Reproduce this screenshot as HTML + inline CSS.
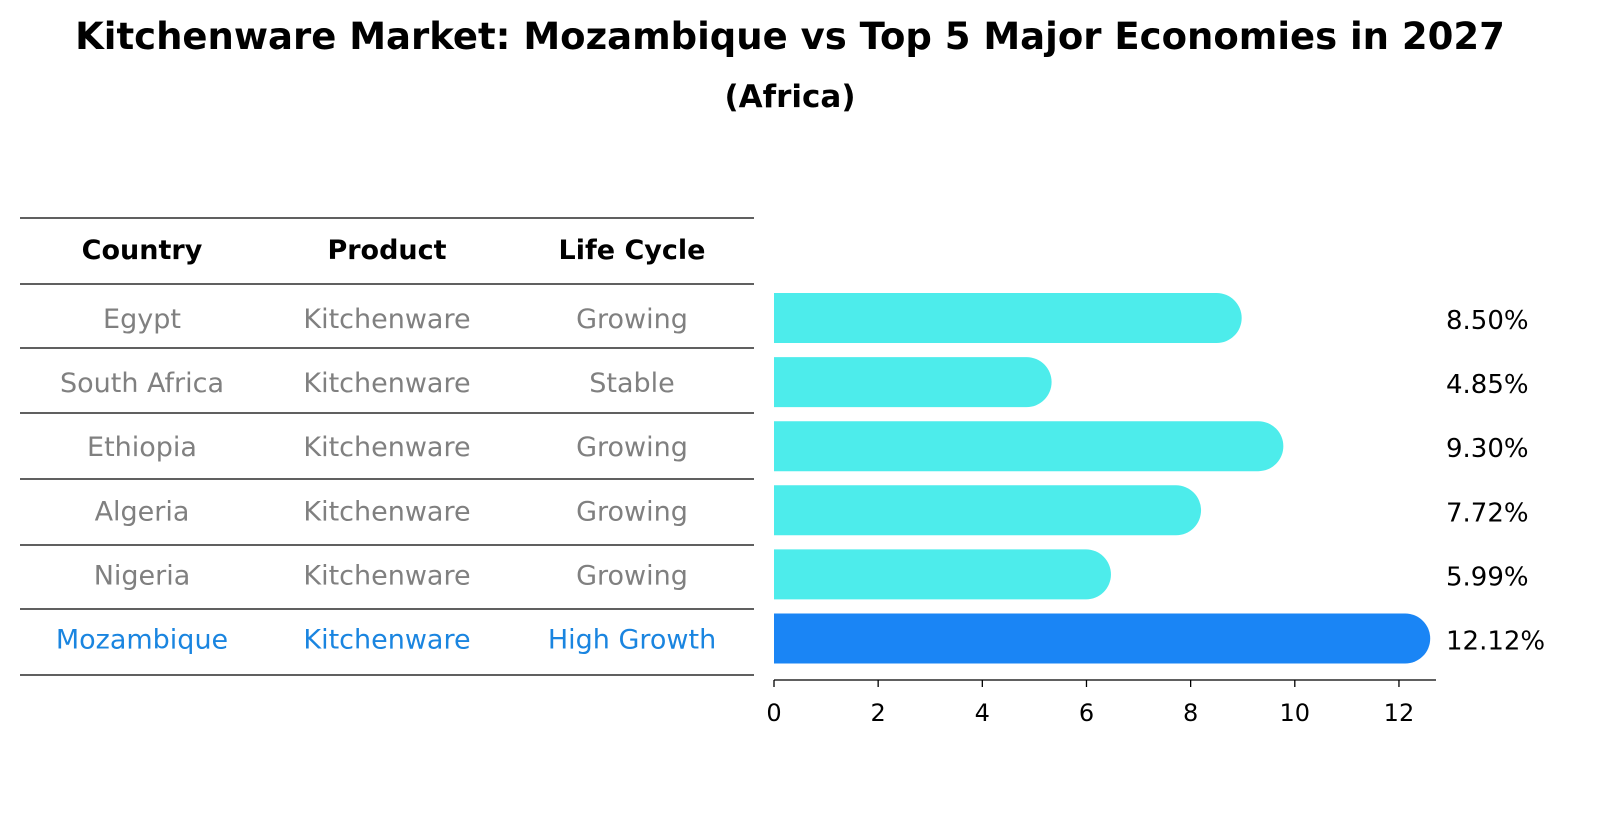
<!DOCTYPE html>
<html><head><meta charset="utf-8"><style>
body{margin:0;background:#fff;font-family:"Liberation Sans","DejaVu Sans",sans-serif}
</style></head><body>
<svg width="1604" height="823" xmlns="http://www.w3.org/2000/svg" font-family="DejaVu Sans, Liberation Sans, sans-serif">
<text x="790" y="49" text-anchor="middle" font-size="37" font-weight="bold">Kitchenware Market: Mozambique vs Top 5 Major Economies in 2027</text>
<text x="790" y="107" text-anchor="middle" font-size="31" font-weight="bold">(Africa)</text>
<g id="table"></g>
<g id="bars"></g>
</svg>
<script>
const countries=["Egypt","South Africa","Ethiopia","Algeria","Nigeria","Mozambique"];
const products=["Kitchenware","Kitchenware","Kitchenware","Kitchenware","Kitchenware","Kitchenware"];
const lifeCycles=["Growing","Stable","Growing","Growing","Growing","High Growth"];
const values=[8.50,4.85,9.30,7.72,5.99,12.12];
const valueLabels=["8.50%","4.85%","9.30%","7.72%","5.99%","12.12%"];
const ticks=[0,2,4,6,8,10,12];
const NS="http://www.w3.org/2000/svg";
function mk(t,a,p){const e=document.createElementNS(NS,t);for(const k in a)e.setAttribute(k,a[k]);p.appendChild(e);return e;}
const x=v=>774+v*52.08;
const rowY=i=>318+i*64.1;
const tbl=document.getElementById('table');
const lines=[218,284,348,413,479,545,609,675];
lines.forEach((ly,i)=>{const l=mk('line',{x1:20,x2:754,y1:ly,y2:ly,stroke:'#000','stroke-width':1.3},tbl);

});
const cx=[142,387,632];
["Country","Product","Life Cycle"].forEach((h,i)=>{const t=mk('text',{x:cx[i],y:259,'text-anchor':'middle','font-size':27,'font-weight':'bold'},tbl);t.textContent=h;

});
countries.forEach((c,i)=>{const hi=i===countries.length-1;const col=hi?'#1a85e0':'#808080';
[c,products[i],lifeCycles[i]].forEach((s,j)=>{const t=mk('text',{x:cx[j],y:rowY(i)+10,'text-anchor':'middle','font-size':27,fill:col},tbl);t.textContent=s;

});});
const bg=document.getElementById('bars');
values.forEach((v,i)=>{const hi=i===values.length-1;const col=hi?'#1a85f5':'#4deceb';const y=rowY(i);
const w=x(v)-x(0);
const p=mk('path',{d:`M${x(0)},${y-25} H${x(0)+w} A25,25 0 0 1 ${x(0)+w},${y+25} H${x(0)} Z`,fill:col},bg);


const t=mk('text',{x:1446,y:y+11,'font-size':26},bg);t.textContent=valueLabels[i];

});
const ax=mk('line',{x1:774,x2:1436,y1:680,y2:680,stroke:'#000','stroke-width':1.3},bg);


ticks.forEach(tv=>{const l=mk('line',{x1:x(tv),x2:x(tv),y1:680,y2:687,stroke:'#000','stroke-width':1.3},bg);


const t=mk('text',{x:x(tv),y:721,'text-anchor':'middle','font-size':24},bg);t.textContent=tv;

});
</script>
</body></html>
